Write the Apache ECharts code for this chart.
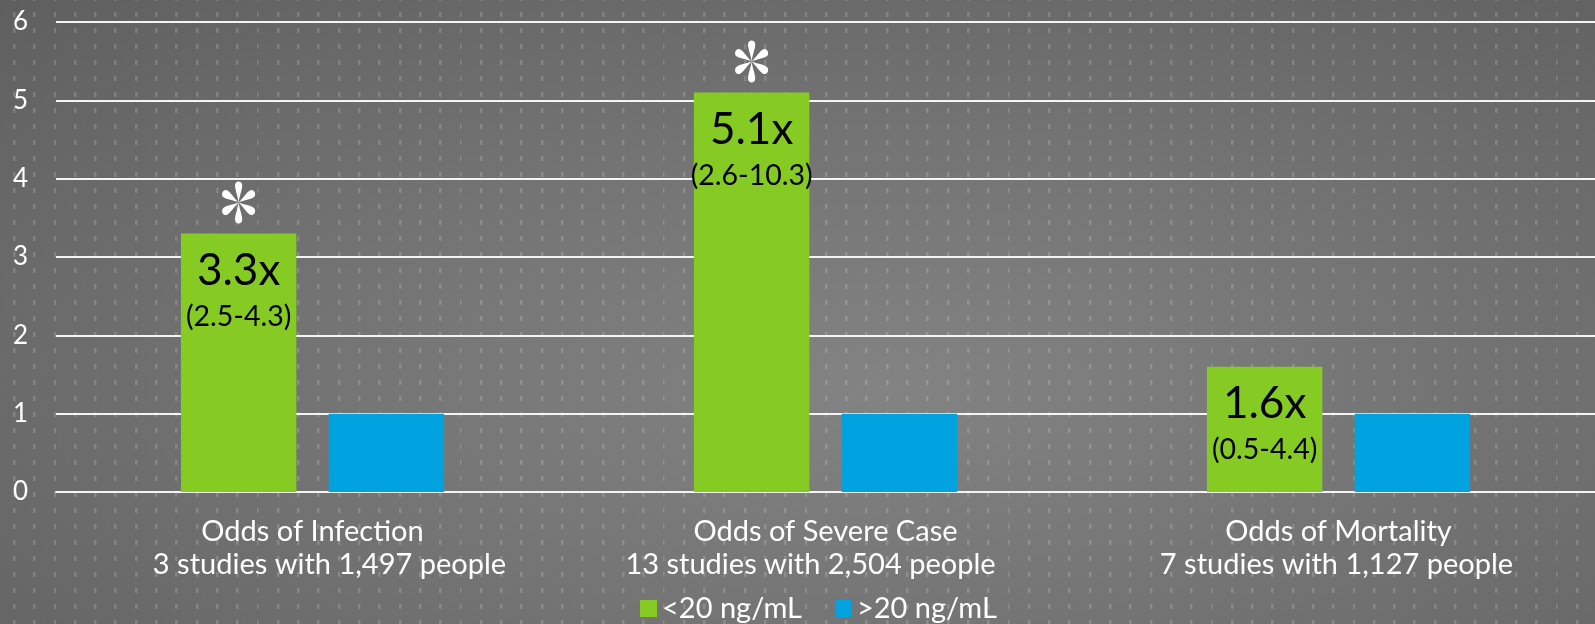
<!DOCTYPE html>
<html>
<head>
<meta charset="utf-8">
<script src="https://cdn.jsdelivr.net/npm/echarts@6/dist/echarts.min.js"></script>
<style>
html,body{margin:0;padding:0;}
#chart{
  width:1595px;height:624px;
  background-image:
    url("data:image/svg+xml;utf8,<svg xmlns='http://www.w3.org/2000/svg' width='20.3' height='16'><rect x='0' y='0' width='2.4' height='5' fill='rgba(255,255,255,0.16)'/></svg>"),
    radial-gradient(ellipse at 55% 62%, #838383 0%, #747474 45%, #5f5f5f 100%);
  background-size:20.3px 16px, 100% 100%;
  background-position:13px 12px, 0 0;
}
</style>
</head>
<body>
<div id="chart"></div>
<script>
// ---- data ----
const categories = [
  'Odds of Infection\n3 studies with 1,497 people',
  'Odds of Severe Case\n13 studies with 2,504 people',
  'Odds of Mortality\n7 studies with 1,127 people'
];
const seriesNames = ['<20 ng/mL', '>20 ng/mL'];
const lowVitD = [3.3, 5.1, 1.6];
const highVitD = [1, 1, 1];
const ratioLabels = ['3.3x', '5.1x', '1.6x'];
const ciLabels = ['(2.5-4.3)', '(2.6-10.3)', '(0.5-4.4)'];
const significant = [true, true, false];
const yTicks = [0, 1, 2, 3, 4, 5, 6];

// ---- style helpers ----
// horizontal nudge (px) of the second label line, as in the source slide
const line2Shift = [17, -15, -2];

function asteriskPath() {
  const petal = [[0,0],[-2.5,-15],[-9,-28],[-9,-37],[-9,-49],[9,-49],[9,-37],[9,-28],[2.5,-15],[0,0]];
  let d = '';
  for (let k = 0; k < 6; k++) {
    const a = k * Math.PI / 3;
    const c = Math.cos(a), s = Math.sin(a);
    const p = petal.map(([x, y]) => [(x * c - y * s + 50).toFixed(2), (x * s + y * c + 50).toFixed(2)]);
    d += 'M' + p[0].join(' ') + ' C' + p[1].join(' ') + ' ' + p[2].join(' ') + ' ' + p[3].join(' ') +
         ' C' + p[4].join(' ') + ' ' + p[5].join(' ') + ' ' + p[6].join(' ') +
         ' C' + p[7].join(' ') + ' ' + p[8].join(' ') + ' ' + p[9].join(' ') + ' Z ';
  }
  return 'path://' + d;
}

const FONT = 'Lato';
const CAT_FS = 29;
const chart = echarts.init(document.getElementById('chart'), null, {renderer: 'canvas'});

const markData = [];
significant.forEach((sig, i) => { if (sig) markData.push({coord: [i, lowVitD[i]]}); });

const catRich = {l1: {fontSize: CAT_FS, lineHeight: 33, color: '#ffffff', fontFamily: FONT}};
line2Shift.forEach((s, i) => {
  catRich['m' + i] = {
    fontSize: CAT_FS, lineHeight: 33, color: '#ffffff', fontFamily: FONT,
    padding: s >= 0 ? [0, 0, 0, 2 * s] : [0, -2 * s, 0, 0]
  };
});

chart.setOption({
  animation: false,
  backgroundColor: 'transparent',
  textStyle: {fontFamily: FONT},
  grid: {left: 56, right: 0, top: 22, bottom: 132, containLabel: false},
  legend: {
    data: seriesNames,
    left: 640, top: 594,
    padding: 0,
    icon: 'rect',
    itemWidth: 17, itemHeight: 17, itemGap: 33,
    textStyle: {color: '#ffffff', fontSize: 29, fontFamily: FONT}
  },
  xAxis: {
    type: 'category',
    data: categories,
    axisLine: {show: true, lineStyle: {color: '#f4f4f4', width: 2}},
    axisTick: {show: false},
    axisLabel: {
      color: '#ffffff', fontSize: CAT_FS, fontFamily: FONT,
      lineHeight: 33, margin: 23, interval: 0,
      formatter: (val, idx) => {
        const parts = val.split('\n');
        return '{l1|' + parts[0] + '}\n{m' + idx + '|' + parts[1] + '}';
      },
      rich: catRich
    }
  },
  yAxis: {
    type: 'value',
    min: yTicks[0], max: yTicks[yTicks.length - 1], interval: 1,
    axisLine: {show: false},
    axisTick: {show: false},
    splitLine: {show: true, lineStyle: {color: '#f4f4f4', width: 2}},
    axisLabel: {color: '#ffffff', fontSize: 26, fontFamily: FONT, margin: 28, align: 'right'}
  },
  series: [
    {
      name: seriesNames[0],
      type: 'bar',
      data: lowVitD,
      barWidth: '22.5%',
      barGap: '28%',
      itemStyle: {color: '#86CB23'},
      label: {
        show: true,
        position: 'insideTop',
        distance: 14,
        formatter: p => '{a|' + ratioLabels[p.dataIndex] + '}\n{b|' + ciLabels[p.dataIndex] + '}',
        rich: {
          a: {fontSize: 44, lineHeight: 46, color: '#000000', fontFamily: FONT},
          b: {fontSize: 28.5, lineHeight: 46, color: '#000000', fontFamily: FONT}
        }
      },
      markPoint: {
        symbol: asteriskPath(),
        symbolSize: [37, 42],
        symbolKeepAspect: true,
        symbolOffset: [0, -31],
        itemStyle: {color: '#ffffff'},
        label: {show: false},
        data: markData
      }
    },
    {
      name: seriesNames[1],
      type: 'bar',
      data: highVitD,
      barWidth: '22.5%',
      itemStyle: {color: '#00A3E0'}
    }
  ]
});
</script>
</body>
</html>
